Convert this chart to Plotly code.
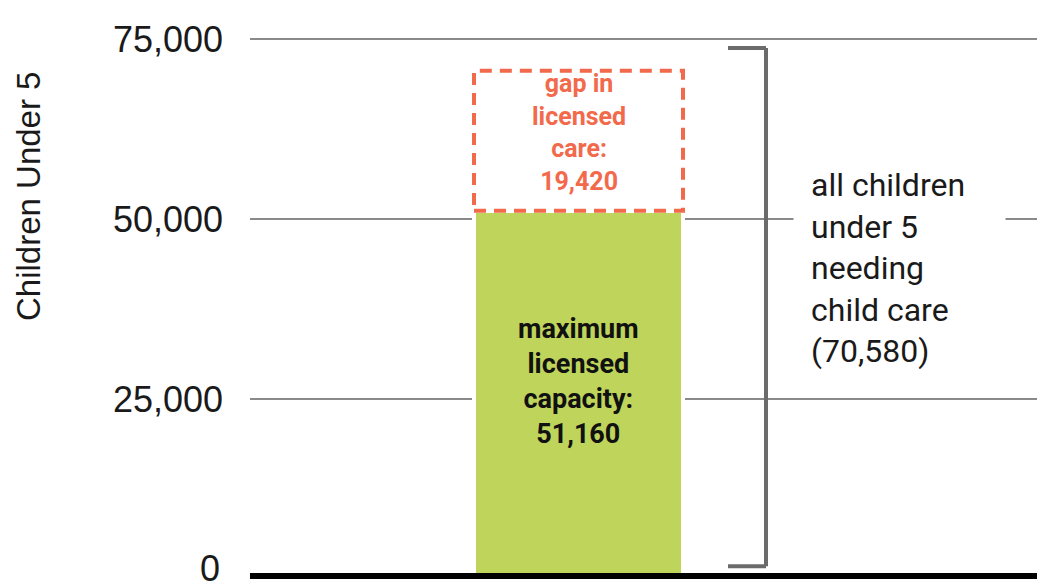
import plotly.graph_objects as go

# ---- data ----
categories = ["children under 5"]
licensed_capacity = [51160]
gap_in_care = [19420]
total_needing_care = [70580]
y_ticks = [0, 25000, 50000, 75000]
y_tick_labels = ["0", "25,000", "50,000", "75,000"]

GREEN = "#BFD45B"
ORANGE = "#F26A4B"
GRAY_GRID = "#8a8a8a"
BRACKET = "#6b6b6b"
TICK_FONT = dict(family="Liberation Sans, Arial", size=36, color="#1a1a1a")

W, H = 1037, 582
L, R, T, B = 250, 0, 34, 3
plot_w = W - L - R
plot_h = H - T - B

bar_px = 209
bar_w = bar_px / plot_w
center_frac = (578.5 - L) / plot_w
x_range = [-center_frac, 1 - center_frac]

fig = go.Figure()
fig.add_trace(go.Bar(
    x=[0], y=licensed_capacity, width=bar_w,
    marker=dict(color=GREEN, line=dict(color="white", width=4)),
    hoverinfo="skip", showlegend=False,
))
fig.add_trace(go.Bar(
    x=[0], y=gap_in_care, width=bar_w,
    marker=dict(color="white", line=dict(color="white", width=4)),
    hoverinfo="skip", showlegend=False,
))

# dashed outline of the gap segment (data coordinates)
half = bar_w / 2
fig.add_shape(type="rect", xref="x", yref="y",
              x0=-half, x1=half,
              y0=licensed_capacity[0], y1=licensed_capacity[0] + gap_in_care[0],
              line=dict(color=ORANGE, width=4, dash="12px,8px"),
              fillcolor="rgba(0,0,0,0)", layer="above")

# baseline at zero, above the bars
fig.add_shape(type="line", xref="paper", yref="y", x0=0, x1=1, y0=0, y1=0,
              line=dict(color="black", width=12), layer="above")

# bracket for all children needing care
bx = (766 - L) / plot_w
bx_tick = (728 - L) / plot_w
b_top = total_needing_care[0] * 1.045
b_bot = total_needing_care[0] * 0.025
for (x0, y0, x1, y1) in [(bx, b_bot, bx, b_top), (bx_tick, b_top, bx, b_top), (bx_tick, b_bot, bx, b_bot)]:
    fig.add_shape(type="line", xref="paper", yref="y", x0=x0, x1=x1, y0=y0, y1=y1,
                  line=dict(color=BRACKET, width=4), layer="above")

# labels
fig.add_annotation(x=0, xref="x", y=licensed_capacity[0] / 2, yref="y", yshift=13,
                   text="<b>maximum<br>licensed<br>capacity:<br>{:,}</b>".format(licensed_capacity[0]),
                   showarrow=False, align="center",
                   font=dict(family="Roboto", size=27, color="#111111"))
fig.add_annotation(x=0, xref="x", y=licensed_capacity[0] + gap_in_care[0] / 2, yref="y", yshift=8,
                   text="<b>gap in<br>licensed<br>care:<br>{:,}</b>".format(gap_in_care[0]),
                   showarrow=False, align="center",
                   font=dict(family="Roboto", size=25, color=ORANGE))
fig.add_annotation(x=(793 - L) / plot_w, xref="paper", xanchor="left",
                   y=(H - B - 268) / plot_h, yref="paper", yanchor="middle",
                   text="all children<br>under 5<br>needing<br>child care<br>({:,})".format(total_needing_care[0]),
                   showarrow=False, align="left", bgcolor="white", width=177, borderpad=17,
                   font=dict(family="Roboto", size=32, color="#1a1a1a"))
# "0" tick label, lifted slightly so it stays inside the picture
fig.add_annotation(x=0, xref="paper", xanchor="right", xshift=-28,
                   y=y_ticks[0], yref="y", yanchor="middle", yshift=11,
                   text=y_tick_labels[0], showarrow=False, font=TICK_FONT)
# axis title
fig.add_annotation(x=0, xref="paper", xshift=29 - L, xanchor="center",
                   y=(H - B - 197) / plot_h, yref="paper", yanchor="middle",
                   text="Children Under 5", textangle=-90, showarrow=False,
                   font=dict(family="Liberation Sans, Arial", size=33, color="#1a1a1a"))

fig.update_layout(
    width=W, height=H,
    margin=dict(l=L, r=R, t=T, b=B, pad=0, autoexpand=False),
    paper_bgcolor="white", plot_bgcolor="white",
    barmode="stack", bargap=0,
    showlegend=False,
    xaxis=dict(range=x_range, showticklabels=False, showgrid=False, zeroline=False,
               showline=False, ticks="", automargin=False),
    yaxis=dict(range=[0, 75700], tickvals=y_ticks[1:], ticktext=y_tick_labels[1:],
               showgrid=True, gridcolor=GRAY_GRID, gridwidth=2,
               zeroline=False,
               showline=False, ticks="", ticklabelstandoff=26, automargin=False,
               tickfont=TICK_FONT),
)

fig.write_html("out.html", config={"displayModeBar": False},
               post_script="document.body.style.margin='0';document.body.style.overflow='hidden';")
